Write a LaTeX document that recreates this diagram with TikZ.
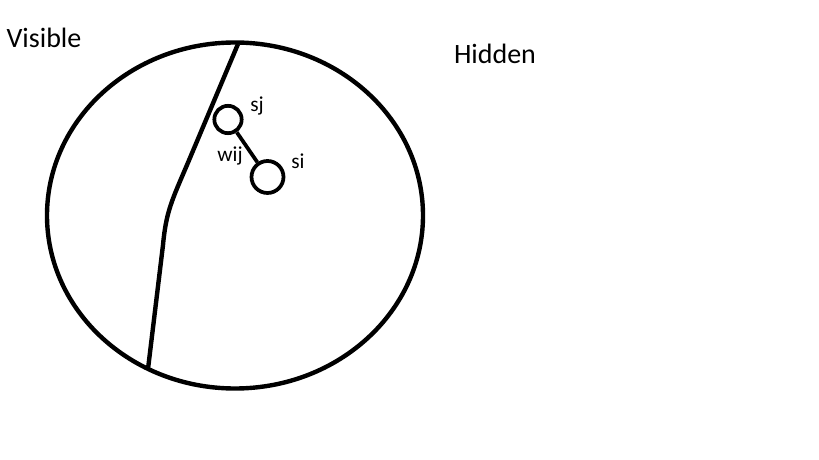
\documentclass[tikz,border=0pt]{standalone}
\usepackage{fontspec}
\setmainfont{Carlito}
\begin{document}
\begin{tikzpicture}[x=0.75pt,y=-0.75pt,
  bigline/.style={line width=3.3pt,draw=black},
  unit/.style={circle,draw=black,line width=2.8pt,inner sep=0pt},
  biglabel/.style={font=\fontsize{21}{24}\selectfont,text=black},
  smalllabel/.style={font=\fontsize{16}{18}\selectfont,text=black}]
\useasboundingbox (0,0) rectangle (819,460);
\draw[bigline] (235,215.5) ellipse [x radius=188, y radius=173];
\coordinate (top) at (238,44);
\coordinate (bot) at (148,369);
\draw[bigline] (top) -- (187,165) .. controls (172,200) and (166,212) .. (163,245) -- (bot);
\node[unit,minimum size=20.5pt] (sj) at (228,119.5) {};
\node[unit,minimum size=24pt] (si) at (267.5,177) {};
\draw[line width=2.8pt] (sj) -- (si);
\node[biglabel] (vis) at (44,38) {Visible};
\node[biglabel] (hid) at (495,54) {Hidden};
\node[smalllabel] (lsj) at (257,106) {sj};
\node[smalllabel] (lsi) at (298,161) {si};
\node[smalllabel] (lw) at (230,156) {wij};
\end{tikzpicture}
\end{document}
